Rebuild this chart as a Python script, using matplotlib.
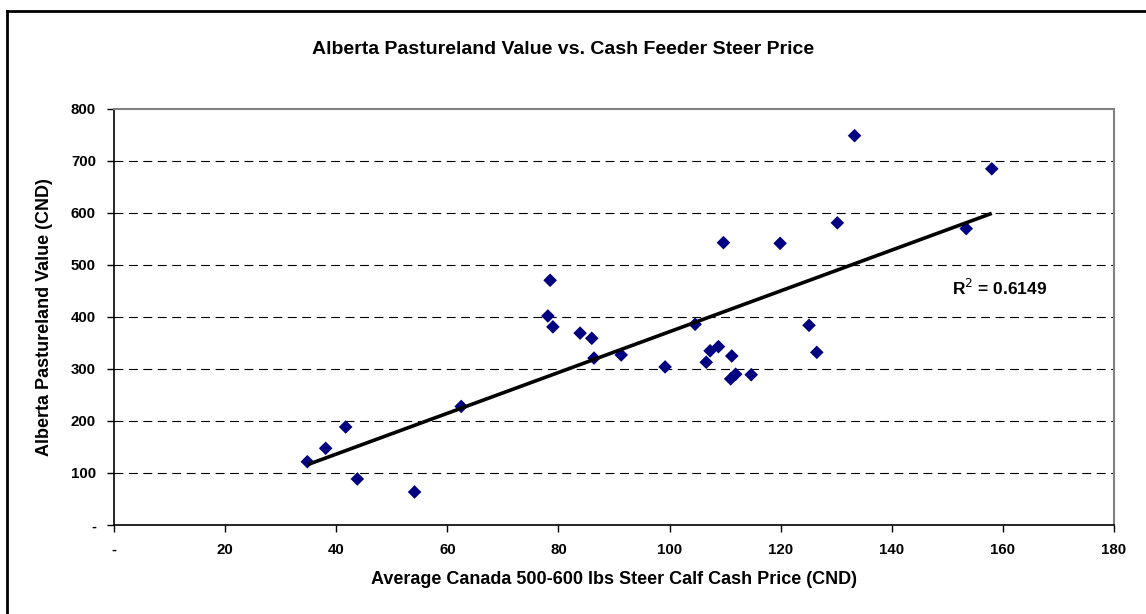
import numpy as np
import matplotlib
matplotlib.use("Agg")
import matplotlib.pyplot as plt
from matplotlib.lines import Line2D

plt.rcParams['font.family'] = ['Liberation Sans', 'DejaVu Sans']

# Data
steer_price = [34.8, 38.1, 41.7, 43.8, 54.1, 62.5,
               78.5, 78.1, 79.0, 83.9, 86.0, 86.4, 91.3, 99.2, 104.6,
               106.6, 107.3, 108.8, 109.7, 111.0, 111.2, 111.9, 114.7,
               119.9, 125.1, 126.5, 130.2, 133.3, 153.4, 158.0]
land_value = [121.7, 147.5, 188.5, 88.5, 63.5, 228,
              470.6, 402, 381, 369, 359, 321, 327, 304, 386,
              313, 335, 343, 543, 281, 325, 290, 289,
              541.7, 384, 332, 581, 748.7, 570, 685]
r2_label = "R$^2$ = 0.6149"
x_ticks = [0, 20, 40, 60, 80, 100, 120, 140, 160, 180]
x_tick_labels = ['-', '20', '40', '60', '80', '100', '120', '140', '160', '180']
y_ticks = [0, 100, 200, 300, 400, 500, 600, 700, 800]
y_tick_labels = ['-', '100', '200', '300', '400', '500', '600', '700', '800']

W, H = 1146, 614
fig = plt.figure(figsize=(W / 100, H / 100), dpi=100)
left, right, top, bottom = 114, 1114, 109, 525
ax = fig.add_axes([left / W, 1 - bottom / H, (right - left) / W, (bottom - top) / H])

ax.set_xlim(0, 180)
ax.set_ylim(0, 800)

# gridlines
for yv in y_ticks[1:-1]:
    ax.axhline(yv, color='black', lw=0.8, dashes=(8, 5), zorder=1)

ax.scatter(steer_price, land_value, marker='D', s=48, color='#000080',
           edgecolors='none', zorder=3)

# linear trendline
xs = np.array(steer_price)
ys = np.array(land_value)
m, b = np.polyfit(xs, ys, 1)
xl = np.array([xs.min(), xs.max()])
ax.plot(xl, m * xl + b, color='black', lw=2.6, zorder=4, solid_capstyle='butt')

ax.text(159.5, 456, r2_label, fontsize=12.5, fontweight='bold', ha='center', va='center')

for s in ['top', 'right']:
    ax.spines[s].set_color('#808080')
    ax.spines[s].set_linewidth(1.5)
for s in ['left', 'bottom']:
    ax.spines[s].set_color('black')
    ax.spines[s].set_linewidth(1.2)

ax.set_xticks(x_ticks)
ax.set_xticklabels(x_tick_labels)
ax.set_yticks(y_ticks)
ax.set_yticklabels(y_tick_labels)
ax.tick_params(axis='both', direction='out', length=5, width=1, labelsize=10.8)
ax.tick_params(axis='x', pad=8)
ax.tick_params(axis='y', pad=8)
for lab in ax.get_xticklabels() + ax.get_yticklabels():
    lab.set_fontweight('bold')

ax.set_xlabel('Average Canada 500-600 lbs Steer Calf Cash Price (CND)',
              fontsize=13, fontweight='bold')
ax.xaxis.set_label_coords(0.5, (bottom - 580) / (bottom - top))
ax.xaxis.label.set_va('center')
ax.set_ylabel('Alberta Pastureland Value (CND)', fontsize=13, fontweight='bold')
ax.yaxis.set_label_coords((45 - left) / (right - left), 0.5)
ax.yaxis.label.set_va('center')

fig.text(563 / W, 1 - 50 / H, 'Alberta Pastureland Value vs. Cash Feeder Steer Price',
         fontsize=14, fontweight='bold', ha='center', va='center')

# outer chart border (left and top visible)
fig.add_artist(Line2D([7 / W, 7 / W], [0, 1 - 11 / H], transform=fig.transFigure, color='black', lw=2))
fig.add_artist(Line2D([7 / W, 1], [1 - 11 / H, 1 - 11 / H], transform=fig.transFigure, color='black', lw=2))

fig.savefig('out.png', dpi=100)
